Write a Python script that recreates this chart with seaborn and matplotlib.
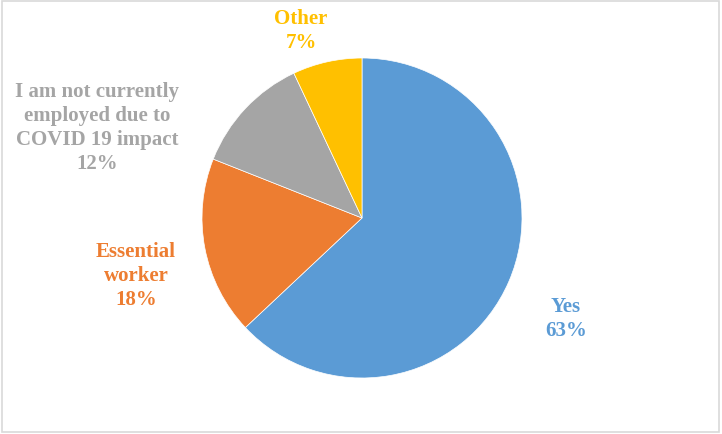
import matplotlib
matplotlib.use("Agg")
import matplotlib.pyplot as plt
import seaborn as sns
from matplotlib.patches import Rectangle

categories = ["Yes", "Essential\nworker", "I am not currently\nemployed due to\nCOVID 19 impact", "Other"]
values = [63, 18, 12, 7]
colors = ["#5B9BD5", "#ED7D31", "#A5A5A5", "#FFC000"]
# label block centres in pixel coordinates (layout only)
label_px = [(566, 319), (136, 276), (97, 128), (301, 31)]

sns.set_theme(style="white")
plt.rcParams['font.family'] = ['Liberation Serif', 'DejaVu Serif']

W, H = 722, 435
fig = plt.figure(figsize=(W / 100, H / 100), dpi=100)
fig.patch.set_facecolor("white")
cx, cy, r = 362, 219, 160
ax = fig.add_axes([(cx - r) / W, (H - cy - r) / H, 2 * r / W, 2 * r / H])

wedges, _ = ax.pie(values, colors=colors, startangle=90, counterclock=False,
                   radius=1, wedgeprops=dict(edgecolor="white", linewidth=0.5))
ax.set_xlim(-1, 1)
ax.set_ylim(-1, 1)
ax.set_aspect("equal")
ax.axis("off")

for cat, val, col, (px, py) in zip(categories, values, colors, label_px):
    x = (px - cx) / r
    y = (cy - py) / r
    ax.text(x, y, f"{cat}\n{val}%", color=col, ha="center", va="center",
            fontsize=15, fontweight="bold", linespacing=1.27, clip_on=False)

fig.patches.append(Rectangle((2 / W, 2 / H), 1 - 5 / W, 1 - 4 / H, transform=fig.transFigure,
                             fill=False, edgecolor="#D9D9D9", linewidth=1.2))

fig.savefig("out.png", dpi=100, facecolor="white")
